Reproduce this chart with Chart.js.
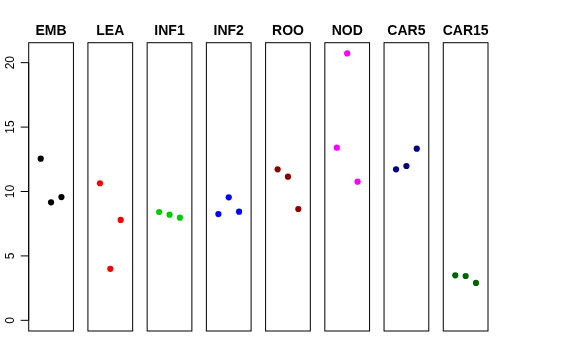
<!DOCTYPE html>
<html>
<head>
<meta charset="utf-8">
<script src="https://cdn.jsdelivr.net/npm/chart.js@4.4.1/dist/chart.umd.min.js"></script>
<style>
html,body{margin:0;padding:0;background:#fff;}
#wrap{position:relative;width:576px;height:360px;}
</style>
</head>
<body>
<div id="wrap"><canvas id="c" width="576" height="360"></canvas></div>
<script>
// ---- data ----
const categories = ['EMB','LEA','INF1','INF2','ROO','NOD','CAR5','CAR15'];
const EMB   = [12.55, 9.16, 9.57];
const LEA   = [10.64, 4.00, 7.79];
const INF1  = [8.41, 8.20, 7.97];
const INF2  = [8.25, 9.55, 8.43];
const ROO   = [11.72, 11.15, 8.64];
const NOD   = [13.40, 20.72, 10.76];
const CAR5  = [11.72, 11.98, 13.32];
const CAR15 = [3.49, 3.44, 2.90];
const seriesValues = [EMB, LEA, INF1, INF2, ROO, NOD, CAR5, CAR15];
const colors = ['#000000','#FF0000','#00CD00','#0000FF','#8B0000','#FF00FF','#000080','#006400'];
const yTicks = [0, 5, 10, 15, 20];

// ---- layout (panel geometry in x-data units) ----
const PANEL_STEP = 5.72;        // distance between panel starts
const PANEL_LO = -0.16, PANEL_HI = 4.16; // each panel's x extent

const datasets = seriesValues.map((vals, i) => ({
  label: categories[i],
  data: vals.map((v, j) => ({x: i * PANEL_STEP + (j + 1), y: v})),
  showLine: false,
  pointRadius: 3.1,
  pointHoverRadius: 3.1,
  pointBorderWidth: 0,
  pointBackgroundColor: colors[i],
  pointBorderColor: colors[i]
}));

const panelPlugin = {
  id: 'panels',
  afterDraw(chart) {
    const ctx = chart.ctx;
    const xs = chart.scales.x, ys = chart.scales.y;
    const top = chart.chartArea.top, bottom = chart.chartArea.bottom;
    ctx.save();
    ctx.strokeStyle = '#000';
    ctx.lineWidth = 1;
    categories.forEach((name, i) => {
      const l = xs.getPixelForValue(i * PANEL_STEP + PANEL_LO);
      const r = xs.getPixelForValue(i * PANEL_STEP + PANEL_HI);
      ctx.strokeRect(l, top, r - l, bottom - top);
      ctx.fillStyle = '#000';
      ctx.font = 'bold 14px "Liberation Sans", Arial, sans-serif';
      ctx.textAlign = 'center';
      ctx.textBaseline = 'alphabetic';
      ctx.fillText(name, (l + r) / 2, 34.5);
    });
    // y axis
    const ax = xs.getPixelForValue(PANEL_LO);
    ctx.beginPath();
    ctx.moveTo(ax, ys.getPixelForValue(yTicks[0]));
    ctx.lineTo(ax, ys.getPixelForValue(yTicks[yTicks.length - 1]));
    yTicks.forEach(t => {
      const py = ys.getPixelForValue(t);
      ctx.moveTo(ax - 8, py);
      ctx.lineTo(ax, py);
    });
    ctx.stroke();
    ctx.font = '12px "Liberation Sans", Arial, sans-serif';
    ctx.textAlign = 'center';
    ctx.textBaseline = 'alphabetic';
    yTicks.forEach(t => {
      const py = ys.getPixelForValue(t);
      ctx.save();
      ctx.translate(14, py);
      ctx.rotate(-Math.PI / 2);
      ctx.fillText(String(t), 0, 0);
      ctx.restore();
    });
    ctx.restore();
  }
};

new Chart(document.getElementById('c'), {
  type: 'scatter',
  data: { datasets },
  options: {
    responsive: false,
    animation: false,
    events: [],
    layout: { padding: { left: 28.7, right: 88, top: 42.7, bottom: 29 } },
    plugins: { legend: { display: false }, tooltip: { enabled: false } },
    scales: {
      x: { type: 'linear', display: false, min: PANEL_LO, max: (categories.length - 1) * PANEL_STEP + PANEL_HI },
      y: { type: 'linear', display: false, min: -0.829, max: 21.55 }
    }
  },
  plugins: [panelPlugin]
});
</script>
</body>
</html>
